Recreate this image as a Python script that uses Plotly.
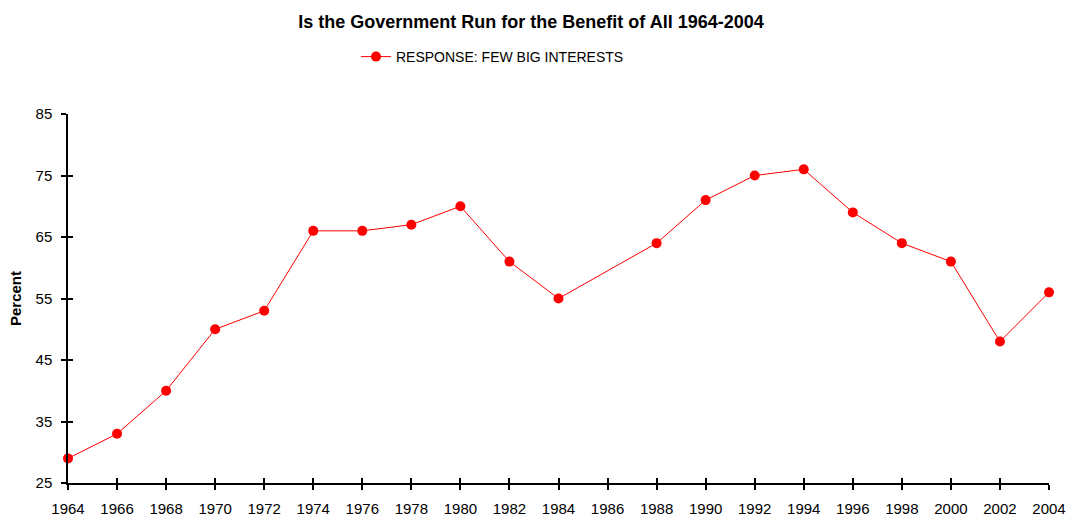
import plotly.graph_objects as go

# Survey years (no reading in 1986) and share answering "few big interests"
years = [1964, 1966, 1968, 1970, 1972, 1974, 1976, 1978, 1980, 1982, 1984,
         1988, 1990, 1992, 1994, 1996, 1998, 2000, 2002, 2004]
percent = [29, 33, 40, 50, 53, 66, 66, 67, 70, 61, 55,
           64, 71, 75, 76, 69, 64, 61, 48, 56]

x_ticks = list(range(1964, 2005, 2))
y_ticks = [25, 35, 45, 55, 65, 75, 85]

font_family = "Liberation Sans, Arial, sans-serif"

fig = go.Figure()
fig.add_trace(go.Scatter(
    x=years, y=percent,
    mode="lines+markers",
    name="RESPONSE: FEW BIG INTERESTS",
    line=dict(color="#FF0000", width=1),
    marker=dict(color="#FF0000", size=10, symbol="circle"),
    cliponaxis=False,
))
# invisible helper trace so the overlay axes (inner half of the cross ticks) render
fig.add_trace(go.Scatter(
    x=[years[0]], y=[percent[0]], xaxis="x2", yaxis="y2",
    mode="markers", marker=dict(opacity=0), showlegend=False, hoverinfo="skip",
))

axis_common = dict(showgrid=False, zeroline=False, tickcolor="black",
                   tickwidth=1.5, automargin=False)

fig.update_layout(
    width=1076, height=520,
    margin=dict(l=68, r=27, t=114, b=37),
    paper_bgcolor="white", plot_bgcolor="white",
    font=dict(family=font_family, color="black", size=15),
    title=dict(
        text="<b>Is the Government Run for the Benefit of All 1964-2004</b>",
        x=0.4935, xanchor="center", xref="container",
        y=1 - 22 / 520, yanchor="middle", yref="container",
        font=dict(size=18, family=font_family, color="black"),
        automargin=False,
    ),
    showlegend=True,
    legend=dict(
        orientation="h",
        x=(356 - 68) / 981, xanchor="left",
        y=(483 - 57) / 369, yanchor="middle",
        font=dict(size=14, family=font_family, color="black"),
        bgcolor="rgba(0,0,0,0)",
    ),
    xaxis=dict(
        range=[1964, 2004],
        tickmode="array", tickvals=x_ticks,
        ticktext=[str(t) for t in x_ticks],
        showline=True, linecolor="black", linewidth=1.5,
        ticks="outside", ticklen=5, ticklabelstandoff=6,
        tickfont=dict(size=15, family=font_family),
        **axis_common,
    ),
    xaxis2=dict(
        range=[1964, 2004], overlaying="x",
        tickmode="array", tickvals=x_ticks, showticklabels=False,
        showline=False, ticks="inside", ticklen=5, side="bottom",
        **axis_common,
    ),
    yaxis=dict(
        range=[25, 85],
        tickmode="array", tickvals=y_ticks,
        ticktext=[str(t) for t in y_ticks],
        showline=True, linecolor="black", linewidth=1.5,
        ticks="outside", ticklen=5, ticklabelstandoff=6,
        tickfont=dict(size=15, family=font_family),
        title=dict(text="<b>Percent</b>", standoff=10,
                   font=dict(size=15, family=font_family)),
        **axis_common,
    ),
    yaxis2=dict(
        range=[25, 85], overlaying="y",
        tickmode="array", tickvals=y_ticks, showticklabels=False,
        showline=False, ticks="inside", ticklen=5, side="left",
        **axis_common,
    ),
)

fig.write_html("out.html")
